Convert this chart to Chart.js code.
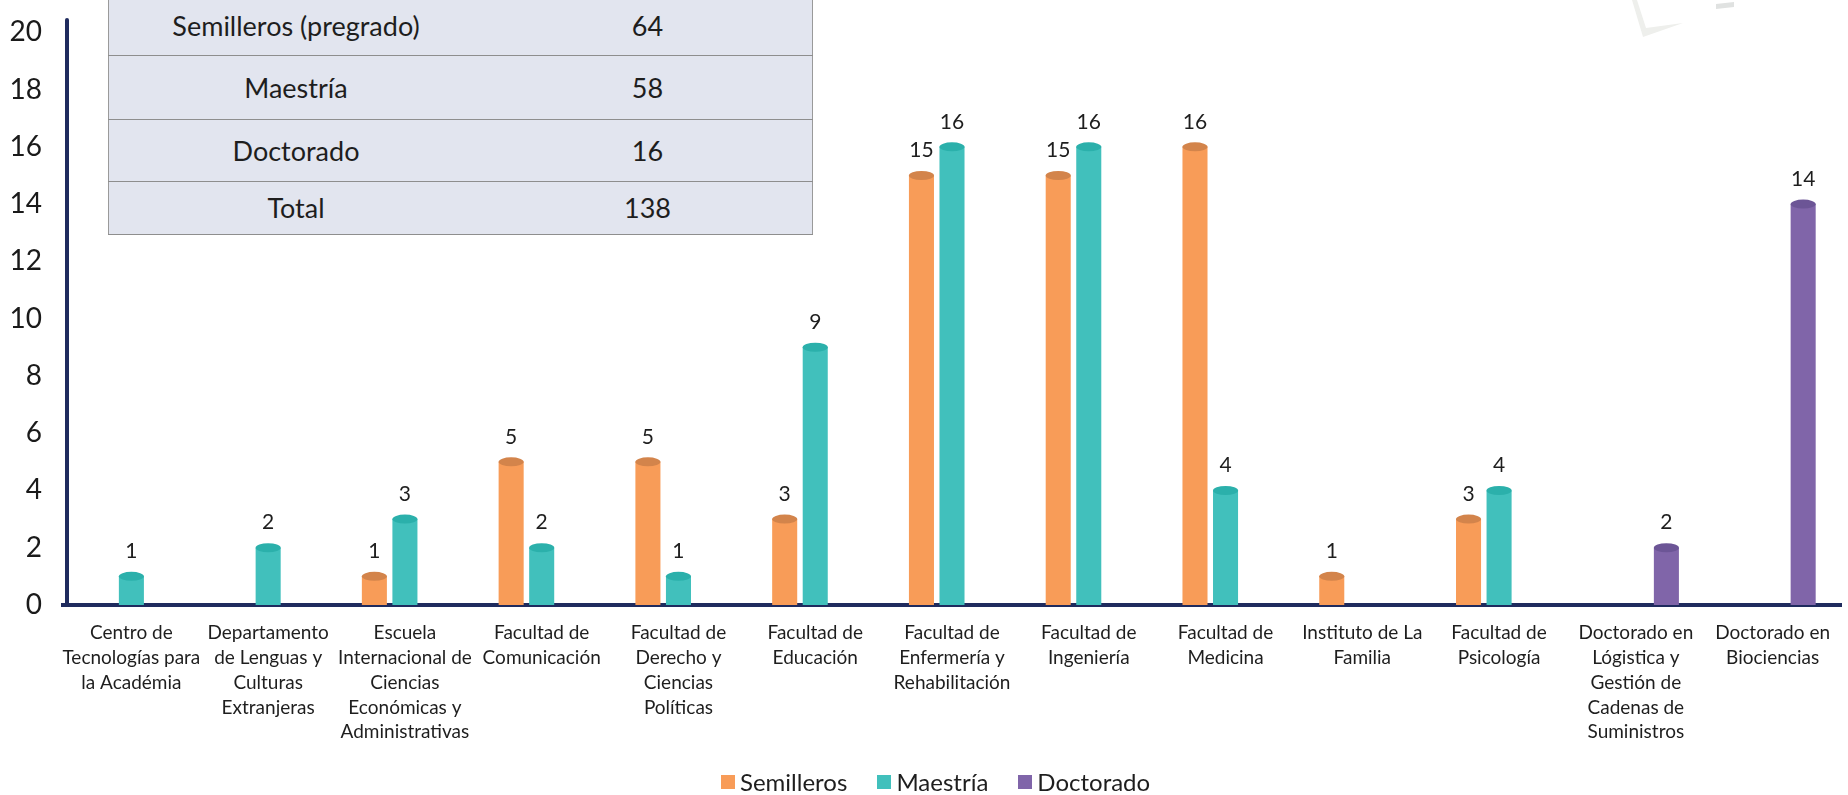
<!DOCTYPE html>
<html>
<head>
<meta charset="utf-8">
<script src="https://cdn.jsdelivr.net/npm/chart.js@4.4.0/dist/chart.umd.min.js"></script>
<style>
html,body{margin:0;padding:0;background:#fff;}
body{width:1848px;height:795px;position:relative;overflow:hidden;font-family:Lato,"Open Sans",sans-serif;color:#1e1e1e;}
#chartBox{position:absolute;left:0;top:0;width:1848px;height:795px;}
#deco{position:absolute;left:0;top:0;}
#summary{position:absolute;left:108px;top:-3px;width:705px;border-collapse:collapse;background:#E2E5EF;font-size:27px;color:#1e1e1e;border-left:1.5px solid #9a9a9a;border-right:1.5px solid #9a9a9a;}
#summary td{text-align:center;padding:0;border-bottom:1.5px solid #8e8e8e;}
#summary td.c1{width:374px;}
#legend{position:absolute;left:721px;top:767px;display:flex;align-items:center;font-size:24px;color:#1e1e1e;white-space:nowrap;}
#legend .item{display:flex;align-items:center;margin-right:30px;}
#legend .sw{width:14px;height:14px;margin-right:5px;}
</style>
</head>
<body>
<svg id="deco" width="1848" height="795">
  <polygon points="1632,0 1637,0 1646,28 1683,23 1643,37" fill="#eeefec"/>
  <polygon points="1716,4 1734,2 1734,7 1716,9" fill="#e0e2e1"/>
</svg>
<div id="chartBox"><canvas id="c" width="1848" height="795"></canvas></div>
<table id="summary"><tbody id="tbody"></tbody></table>
<div id="legend"></div>
<script>
// ---- data ----
const categories = [
  ["Centro de","Tecnologías para","la Académia"],
  ["Departamento","de Lenguas y","Culturas","Extranjeras"],
  ["Escuela","Internacional de","Ciencias","Económicas y","Administrativas"],
  ["Facultad de","Comunicación"],
  ["Facultad de","Derecho y","Ciencias","Políticas"],
  ["Facultad de","Educación"],
  ["Facultad de","Enfermería y","Rehabilitación"],
  ["Facultad de","Ingeniería"],
  ["Facultad de","Medicina"],
  ["Instituto de La","Familia"],
  ["Facultad de","Psicología"],
  ["Doctorado en","Lógistica y","Gestión de","Cadenas de","Suministros"],
  ["Doctorado en","Biociencias"]
];
const semilleros = [null, null, 1, 5, 5, 3, 15, 15, 16, 1, 3, null, null];
const maestria   = [1, 2, 3, 2, 1, 9, 16, 16, 4, null, 4, null, null];
const doctorado  = [null, null, null, null, null, null, null, null, null, null, null, 2, 14];
const seriesNames = ["Semilleros", "Maestría", "Doctorado"];
const yTicks = [0, 2, 4, 6, 8, 10, 12, 14, 16, 18, 20];
const tableLabels = ["Semilleros (pregrado)", "Maestría", "Doctorado", "Total"];
const tableValues = [64, 58, 16, 138];

// ---- styles ----
const barColors = ["#F89C58", "#41C0BC", "#8065A9"];
const capColors = ["#D3844B", "#2BB0AB", "#6C5596"];
const axisColor = '#1F2B5E';
const rowHeights = [58, 64, 62, 53];

// table
const tb = document.getElementById('tbody');
tableLabels.forEach((lab, i) => {
  const tr = document.createElement('tr');
  tr.style.height = rowHeights[i] + 'px';
  const a = document.createElement('td'); a.className = 'c1'; a.textContent = lab;
  const b = document.createElement('td'); b.textContent = tableValues[i];
  tr.appendChild(a); tr.appendChild(b); tb.appendChild(tr);
});

// legend
const lg = document.getElementById('legend');
seriesNames.forEach((n, i) => {
  const it = document.createElement('div'); it.className = 'item';
  const sw = document.createElement('div'); sw.className = 'sw'; sw.style.background = barColors[i];
  const tx = document.createElement('span'); tx.textContent = n;
  it.appendChild(sw); it.appendChild(tx); lg.appendChild(it);
});

Chart.defaults.font.family = "Lato, 'Open Sans', sans-serif";

const yLinePlugin = {
  id: 'yline',
  afterDraw(chart) {
    const a = chart.chartArea, ctx = chart.ctx;
    ctx.save();
    ctx.strokeStyle = axisColor;
    ctx.lineWidth = 4;
    ctx.lineCap = 'round';
    ctx.beginPath();
    ctx.moveTo(a.left + 4, a.top + 2);
    ctx.lineTo(a.left + 4, a.bottom);
    ctx.stroke();
    ctx.restore();
  }
};

const capPlugin = {
  id: 'caps',
  afterDatasetsDraw(chart) {
    const ctx = chart.ctx;
    ctx.save();
    chart.data.datasets.forEach((ds, di) => {
      const meta = chart.getDatasetMeta(di);
      meta.data.forEach((el, i) => {
        const v = ds.data[i];
        if (v === null || v === undefined) return;
        const w = el.width;
        ctx.fillStyle = capColors[di];
        ctx.beginPath();
        ctx.ellipse(el.x, el.y, w / 2, 4.5, 0, 0, Math.PI * 2);
        ctx.fill();
        ctx.fillStyle = '#1e1e1e';
        ctx.font = "21px Lato, 'Open Sans', sans-serif";
        ctx.textAlign = 'center';
        ctx.textBaseline = 'middle';
        ctx.fillText(String(v), el.x, el.y - 25);
      });
    });
    ctx.restore();
  }
};

new Chart(document.getElementById('c'), {
  type: 'bar',
  data: {
    labels: categories,
    datasets: [
      { label: seriesNames[0], data: semilleros, backgroundColor: barColors[0] },
      { label: seriesNames[1], data: maestria, backgroundColor: barColors[1] },
      { label: seriesNames[2], data: doctorado, backgroundColor: barColors[2] }
    ]
  },
  options: {
    responsive: false,
    animation: false,
    layout: { padding: { left: 0, right: 7, top: 18, bottom: 0 } },
    datasets: { bar: { categoryPercentage: 0.67, barPercentage: 0.82 } },
    plugins: { legend: { display: false }, tooltip: { enabled: false } },
    scales: {
      x: {
        grid: { display: false, drawTicks: false },
        border: { color: axisColor, width: 4 },
        ticks: { font: { size: 19, lineHeight: 1.3 }, color: '#1e1e1e', padding: 16, maxRotation: 0, minRotation: 0, autoSkip: false },
        afterFit(s) { s.height = 190; s.paddingLeft = 0; s.paddingRight = 0; }
      },
      y: {
        min: 0, max: 20.5,
        grid: { display: false, drawTicks: false },
        border: { display: false },
        afterBuildTicks(s) { s.ticks = yTicks.map(v => ({ value: v })); },
        ticks: {
          callback: (v) => String(v),
          font: { size: 28 }, color: '#1a1a1a', padding: 21
        },
        afterFit(s) { s.width = 63; s.paddingTop = 0; s.paddingBottom = 0; }
      }
    }
  },
  plugins: [capPlugin, yLinePlugin]
});
</script>
</body>
</html>
